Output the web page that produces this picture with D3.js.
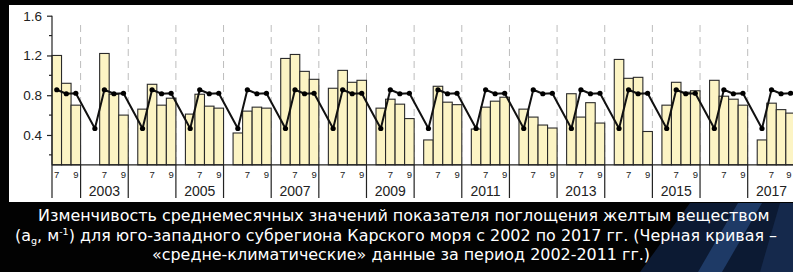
<!DOCTYPE html>
<html><head><meta charset="utf-8">
<script src="https://cdn.jsdelivr.net/npm/d3@7"></script>
<style>html,body{margin:0;padding:0;background:#000;}svg{display:block;}</style>
</head><body>
<script>
// ---- data ----
const years = d3.range(2002, 2018);
const monthsAll = [5, 6, 7, 8, 9];
// observed monthly means (June..September), by year 2002..2017
const obsJun = [null, null, 0.66, 0.61, 0.42, 1.17, 0.87, 0.67, 0.35, 0.46, 0.66, 0.815, 1.16, 0.70, 0.95, 0.35];
const obsJul = [1.20, 1.22, 0.91, 0.81, 0.64, 1.21, 1.05, 0.76, 0.89, 0.68, 0.58, 0.58, 0.97, 0.93, 0.79, 0.72];
const obsAug = [0.92, 0.81, 0.70, 0.69, 0.68, 1.04, 0.93, 0.71, 0.73, 0.74, 0.50, 0.725, 0.98, 0.83, 0.76, 0.655];
const obsSep = [0.70, 0.60, 0.77, 0.67, 0.67, 0.96, 0.95, 0.565, 0.705, 0.78, 0.47, 0.52, 0.435, 0.845, 0.70, 0.62];
// climatic mean 2002-2011 (June..September)
const climMonths = [6, 7, 8, 9];
const climVals = [0.465, 0.855, 0.815, 0.82];
const yTicks = [0.4, 0.8, 1.2, 1.6];
const yMinor = [0.2, 0.6, 1.0, 1.4];
const monthLabels = [7, 9];
const captionLines = [
  "Изменчивость среднемесячных значений показателя поглощения желтым веществом",
  null,
  "«средне-климатические» данные за период 2002-2011 гг.)"
];

// ---- layout ----
const W = 793, H = 272;
const svg = d3.select("body").append("svg").attr("width", W).attr("height", H);
svg.append("rect").attr("width", W).attr("height", H).attr("fill", "#020202");
// decorative blue swoosh bottom-right
svg.append("polygon").attr("points", "690,203 793,203 793,272 640,272").attr("fill", "#0c1a33");
svg.append("polygon").attr("points", "738,203 762,203 722,272 698,272").attr("fill", "#1e3a66");
svg.append("polygon").attr("points", "780,203 793,203 793,272 760,272").attr("fill", "#15294c");
svg.append("rect").attr("x", 9).attr("y", 5).attr("width", W - 9).attr("height", 197).attr("fill", "#fff");

const keys = [];
years.forEach(yr => monthsAll.forEach(m => { if (yr > 2002 || m >= 7) keys.push(yr + "-" + m); }));
const slot = 9.53;
const x0 = 52;
const x = d3.scaleBand().domain(keys).range([x0, x0 + keys.length * slot]).padding(0);
const bw = x.bandwidth();
const y = d3.scaleLinear().domain([0.1, 1.6]).range([164.8, 15.7]);
const yBase = y(0.1);

const plot = svg.append("g");
// dashed year gridlines
const boundaryYears = years.filter(yr => yr > 2002);
plot.selectAll(".grid").data(boundaryYears).join("line")
  .attr("x1", d => x(d + "-5")).attr("x2", d => x(d + "-5"))
  .attr("y1", 25).attr("y2", yBase)
  .attr("stroke", "#bdbdbd").attr("stroke-width", 1).attr("stroke-dasharray", "7,5");

// bars
const obsByMonth = {6: obsJun, 7: obsJul, 8: obsAug, 9: obsSep};
const bars = [];
years.forEach((yr, i) => [6, 7, 8, 9].forEach(m => {
  const v = obsByMonth[m][i];
  if (v != null) bars.push({key: yr + "-" + m, v});
}));
plot.selectAll(".bar").data(bars).join("rect")
  .attr("x", d => x(d.key)).attr("width", bw)
  .attr("y", d => y(d.v)).attr("height", d => yBase - y(d.v))
  .attr("fill", "#fcf4c4").attr("stroke", "#2a2a2a").attr("stroke-width", 1.1);

// climatic line
const pts = [];
years.forEach(yr => climMonths.forEach((m, j) => {
  const k = yr + "-" + m;
  if (x(k) !== undefined) pts.push({key: k, v: climVals[j]});
}));
const line = d3.line().x(d => x(d.key) + bw / 2).y(d => y(d.v));
plot.append("path").datum(pts).attr("d", line).attr("fill", "none")
  .attr("stroke", "#111").attr("stroke-width", 2).attr("stroke-linejoin", "round");
plot.selectAll(".dot").data(pts).join("circle")
  .attr("cx", d => x(d.key) + bw / 2).attr("cy", d => y(d.v)).attr("r", 2.6).attr("fill", "#000");

// y axis
const yAxis = svg.append("g").attr("transform", `translate(${x0},0)`)
  .call(d3.axisLeft(y).tickValues(yTicks).tickFormat(d3.format(".1f")).tickSize(5).tickPadding(5));
yAxis.select(".domain").attr("d", `M0,${y(1.6)}V${yBase}`).attr("stroke", "#222").attr("stroke-width", 1.2);
yAxis.selectAll(".tick line").attr("stroke", "#222").attr("stroke-width", 1.2);
yAxis.selectAll("text").attr("font-family", "Liberation Sans, Arial, sans-serif").attr("font-size", 13.5).attr("fill", "#222");
svg.append("g").selectAll("line").data(yMinor).join("line")
  .attr("x1", x0 - 3).attr("x2", x0).attr("y1", d => y(d)).attr("y2", d => y(d))
  .attr("stroke", "#222").attr("stroke-width", 1.2);
// left axis extends down through label rows
svg.append("line").attr("x1", x0).attr("x2", x0).attr("y1", yBase).attr("y2", 198).attr("stroke", "#222").attr("stroke-width", 1.2);

// x axis
svg.append("line").attr("x1", x0).attr("x2", W).attr("y1", yBase).attr("y2", yBase).attr("stroke", "#222").attr("stroke-width", 1.2);
svg.selectAll(".sep").data(boundaryYears).join("line")
  .attr("x1", d => x(d + "-5")).attr("x2", d => x(d + "-5"))
  .attr("y1", yBase).attr("y2", 198).attr("stroke", "#222").attr("stroke-width", 1.2);
const mlab = [];
years.forEach(yr => monthLabels.forEach(m => mlab.push({key: yr + "-" + m, t: m})));
svg.selectAll(".mlab").data(mlab).join("text")
  .attr("x", d => Math.min(x(d.key) + bw / 2, W - 4)).attr("y", 178).attr("text-anchor", "middle")
  .attr("font-family", "Liberation Sans, Arial, sans-serif").attr("font-size", 9.5).attr("fill", "#222")
  .text(d => d.t);
svg.selectAll(".ylab").data(years.filter(yr => yr % 2 === 1)).join("text")
  .attr("x", d => x(d + "-7") + bw / 2).attr("y", 195.5).attr("text-anchor", "middle")
  .attr("font-family", "Liberation Sans, Arial, sans-serif").attr("font-size", 14).attr("fill", "#222")
  .text(d => d);

// caption
const cap = svg.append("g").attr("font-family", "DejaVu Sans, Verdana, sans-serif").attr("fill", "#fff");
const l1 = cap.append("text").attr("x", 38).attr("y", 221).text(captionLines[0]);
let fs = 15.5;
l1.attr("font-size", fs);
const w1 = l1.node().getComputedTextLength();
fs = fs * 732 / w1;
l1.attr("font-size", fs);
const l2 = cap.append("text").attr("x", 15).attr("y", 240.5).attr("font-size", fs);
l2.append("tspan").text("(a");
l2.append("tspan").attr("font-size", fs * 0.6).attr("dy", 3).text("g");
l2.append("tspan").attr("dy", -3).text(", м");
l2.append("tspan").attr("font-size", fs * 0.6).attr("dy", -6).text("-1");
l2.append("tspan").attr("dy", 6).text(") для юго-западного субрегиона Карского моря с 2002 по 2017 гг. (Черная кривая –");
cap.append("text").attr("x", 152).attr("y", 260).attr("font-size", fs).text(captionLines[2]);
</script>
</body></html>
